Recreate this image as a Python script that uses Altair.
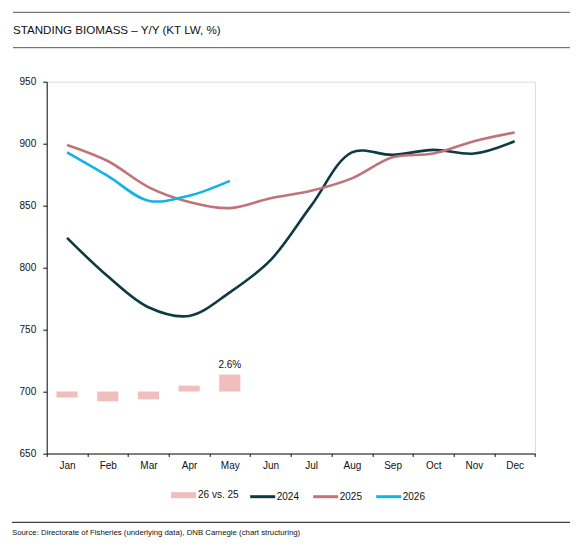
import altair as alt
import pandas as pd

months = ["Jan", "Feb", "Mar", "Apr", "May", "Jun", "Jul", "Aug", "Sep", "Oct", "Nov", "Dec"]
y2024 = [824, 793, 768, 761, 780, 806, 850, 893, 891, 895, 892, 902]
y2025 = [899, 886, 865, 853, 848, 856, 862, 872, 889, 892, 902, 909]
y2026 = [893, 874, 854, 858, 870]
yoy_months = ["Jan", "Feb", "Mar", "Apr", "May"]
yoy_pct = [-0.9, -1.5, -1.2, 0.9, 2.6]
yoy_labels = ["", "", "", "", "2.6%"]

years = ["2024", "2025", "2026"]
colors = ["#0d3b41", "#c0737b", "#14b2ea"]
bar_color = "#f0bfbd"

rows = []
for yr, vals in zip(years, [y2024, y2025, y2026]):
    for m, v in zip(months, vals):
        rows.append({"month": m, "value": v, "year": yr})
lines_df = pd.DataFrame(rows)
bars_df = pd.DataFrame({"month": yoy_months, "pct": yoy_pct, "label": yoy_labels,
                        "series": ["26 vs. 25"] * len(yoy_months)})

FONT = "Liberation Sans"
W, H = 488.3, 371.8

xenc = alt.X("month:N", sort=months,
             scale=alt.Scale(domain=months, paddingInner=0, paddingOuter=0),
             axis=alt.Axis(title=None, tickBand="extent", labelAngle=0, labelFontSize=10,
                           labelColor="#111", labelPadding=4, tickSize=3, tickColor="#111",
                           domainColor="#111", labelFont=FONT))

bar_scale = alt.Scale(domain=[-9.5, 47.5])

bars = alt.Chart(bars_df).mark_bar(width=alt.RelativeBandSize(0.52)).encode(
    x=xenc,
    y=alt.Y("pct:Q", scale=bar_scale, axis=None),
    fill=alt.Fill("series:N", scale=alt.Scale(domain=["26 vs. 25"], range=[bar_color]),
                  legend=alt.Legend(title=None, orient="none", legendX=124.3, legendY=401,
                                    direction="horizontal", symbolType="M-1,-0.24H1V0.24H-1Z",
                                    symbolSize=625, symbolStrokeWidth=0, labelFontSize=10,
                                    labelOffset=2, labelFont=FONT, labelColor="#111", padding=0)),
)

bar_text = alt.Chart(bars_df).transform_filter("datum.label != ''").mark_text(
    baseline="bottom", dy=-5, fontSize=10, font=FONT, color="#111"
).encode(
    x=xenc,
    y=alt.Y("pct:Q", scale=bar_scale, axis=None),
    text="label:N",
)

lines = alt.Chart(lines_df).mark_line(interpolate="catmull-rom", strokeWidth=2.6).encode(
    x=xenc,
    y=alt.Y("value:Q", scale=alt.Scale(domain=[650, 950], nice=False, zero=False),
            axis=alt.Axis(title=None, values=[650, 700, 750, 800, 850, 900, 950], grid=False,
                          labelFontSize=10, labelColor="#111", labelPadding=7, tickSize=4,
                          tickColor="#111", domainColor="#111", labelFont=FONT)),
    stroke=alt.Stroke("year:N", scale=alt.Scale(domain=years, range=colors),
                      legend=alt.Legend(title=None, orient="none", legendX=202, legendY=401,
                                        direction="horizontal", symbolType="stroke",
                                        symbolSize=625, symbolStrokeWidth=3, labelFontSize=10,
                                        labelOffset=0, columnPadding=7, labelFont=FONT,
                                        labelColor="#111", padding=0)),
    detail="year:N",
)

one = pd.DataFrame({"k": [0]})
rule_top = alt.Chart(one).mark_rule(color="#555", strokeWidth=1).encode(
    x=alt.value(-33.7), x2=alt.value(523.3), y=alt.value(-69.4))
rule_mid = alt.Chart(one).mark_rule(color="#555", strokeWidth=1).encode(
    x=alt.value(-33.7), x2=alt.value(523.3), y=alt.value(-34))
rule_bot = alt.Chart(one).mark_rule(color="#111", strokeWidth=1).encode(
    x=alt.value(-34.7), x2=alt.value(523.3), y=alt.value(440.6))
title = alt.Chart(one).mark_text(align="left", baseline="alphabetic", fontSize=11.6,
                                 font=FONT, color="#111").encode(
    x=alt.value(-33.7), y=alt.value(-47.7),
    text=alt.value("STANDING BIOMASS \u2013 Y/Y (KT LW, %)"))
source = alt.Chart(one).mark_text(align="left", baseline="alphabetic", fontSize=7.8,
                                  font=FONT, color="#111").encode(
    x=alt.value(-34.7), y=alt.value(453.3),
    text=alt.value("Source: Directorate of Fisheries (underlying data), DNB Carnegie (chart structuring)"))

chart = alt.layer(lines, bars, bar_text, rule_top, rule_mid, rule_bot, title, source).resolve_scale(
    y="independent"
).properties(
    width=W, height=H,
    padding={"left": 38.7, "top": 73.7, "right": 35, "bottom": 85.5},
    autosize=alt.AutoSizeParams(type="none"),
).configure_view(stroke=None).configure(font=FONT)

chart.save("out.html", embed_options={"renderer": "svg", "actions": False})
